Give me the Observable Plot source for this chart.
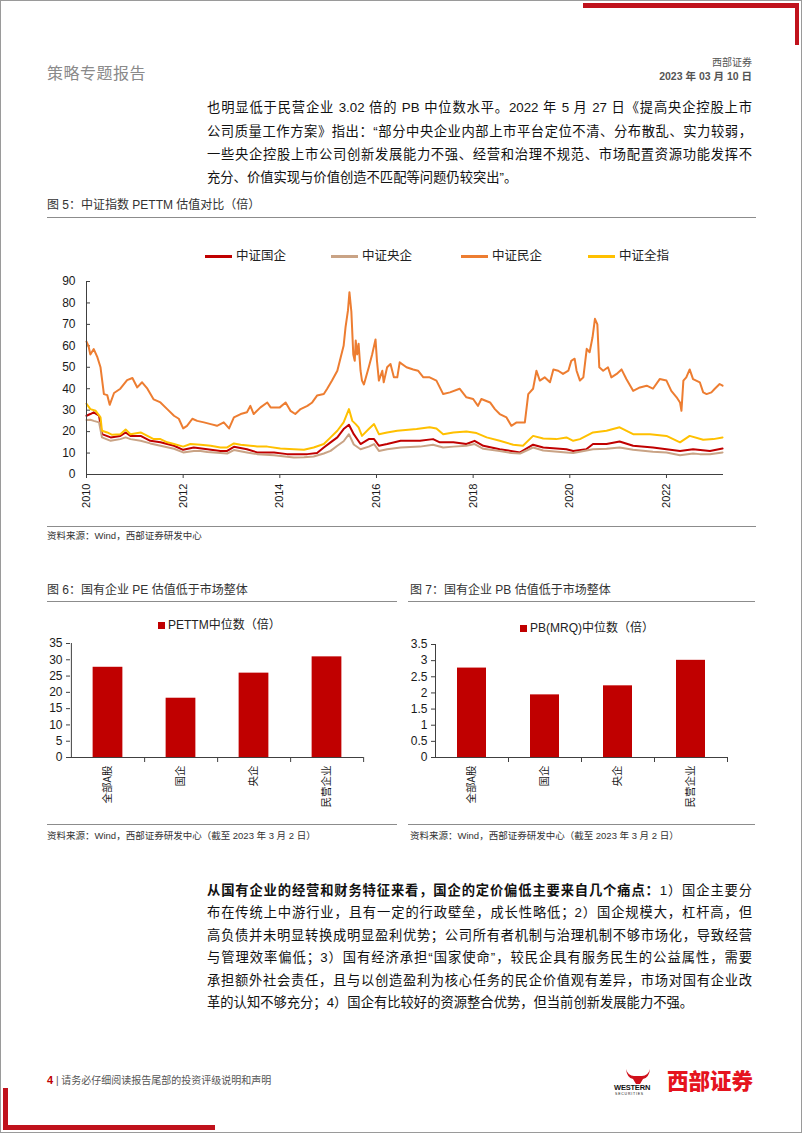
<!DOCTYPE html>
<html><head><meta charset="utf-8">
<script src="https://cdn.jsdelivr.net/npm/d3@7"></script>
<script src="https://cdn.jsdelivr.net/npm/@observablehq/plot@0.6"></script>
<style>
html,body{margin:0;padding:0;background:#fff;}
#page{position:relative;width:802px;height:1133px;overflow:hidden;font-family:"Liberation Sans","Noto Sans CJK SC",sans-serif;color:#111;}
.abs{position:absolute;white-space:nowrap;}
.jl{position:absolute;left:207px;width:545px;font-size:13.3px;line-height:20px;height:20px;text-align:justify;text-align-last:justify;color:#111;}
.jl.last{text-align-last:left;}
.rule{position:absolute;background:#8c8c8c;}
.cap{position:absolute;font-size:12px;line-height:16px;color:#333;white-space:nowrap;}
.src{position:absolute;font-size:9.5px;line-height:12px;color:#333;white-space:nowrap;}
.red{position:absolute;background:#C0121C;}
.leg{position:absolute;display:flex;align-items:center;font-size:12.5px;line-height:16px;color:#222;white-space:nowrap;}
.sw{display:inline-block;width:27px;height:3px;margin-right:4px;}
.sq{display:inline-block;width:7px;height:7px;background:#C00000;margin-right:3px;}
svg{overflow:visible;}
</style></head>
<body><div id="page"></div>
<script>
// ---------- data ----------
const lineSeries = ["中证国企", "中证央企", "中证民企", "中证全指"];
const lineColors = ["#C00000", "#C9A385", "#ED7D31", "#FFC000"];
const yTicks5 = [0, 10, 20, 30, 40, 50, 60, 70, 80, 90];
const xTicks5 = [2010, 2012, 2014, 2016, 2018, 2020, 2022];

// [decimal year, PE TTM]
const soeData = [[2010.00,27.4],[2010.08,28.2],[2010.15,29],[2010.26,27.4],[2010.32,18.8],[2010.50,17.3],[2010.70,18],[2010.81,19.6],[2010.91,18],
[2011.12,18],[2011.32,15.7],[2011.53,15],[2011.81,13.4],[2012.00,11.5],[2012.22,12.6],[2012.50,11.8],[2012.77,11],[2012.91,11],
[2013.05,12.9],[2013.32,11.8],[2013.53,10.3],[2013.88,10.3],[2014.15,9.5],[2014.57,9.5],[2014.77,10],[2014.91,12.6],
[2015.05,15],[2015.19,17.3],[2015.32,21.2],[2015.43,23.2],[2015.53,18.8],[2015.67,14.2],[2015.84,16.5],[2015.95,16.5],
[2016.05,13.4],[2016.22,14.2],[2016.50,15.7],[2016.90,15.7],[2017.17,16.5],[2017.31,15],[2017.59,15],[2017.86,14.2],
[2018.03,15.7],[2018.21,13.4],[2018.55,11.8],[2018.97,10.3],[2019.24,13.9],[2019.45,12.6],[2019.93,11.8],[2020.07,11],
[2020.34,11.8],[2020.48,14.2],[2020.76,14.2],[2021.03,15.4],[2021.31,13.4],[2021.72,12.6],[2022.00,11.8],[2022.28,11],
[2022.55,11.8],[2022.90,11],[2023.16,12.1]];

const centralData = [[2010.00,25.4],[2010.08,25.5],[2010.15,25],[2010.26,24.3],[2010.32,17.3],[2010.50,15.7],[2010.70,16.5],[2010.81,17.3],[2010.91,16.5],
[2011.12,15.7],[2011.32,14.5],[2011.53,13.4],[2011.81,12],[2012.00,10.3],[2012.22,11],[2012.36,11],[2012.50,10.5],[2012.77,10],[2012.91,9.8],
[2013.05,11.4],[2013.32,10.3],[2013.53,9.5],[2013.88,9],[2014.15,8.3],[2014.29,7.9],[2014.50,8],[2014.70,8.4],[2014.91,9.8],
[2015.05,11],[2015.19,13.4],[2015.32,15.5],[2015.43,18.8],[2015.53,14],[2015.67,11.8],[2015.84,13],[2015.95,14.2],
[2016.05,11],[2016.22,11.8],[2016.50,12.6],[2016.90,13],[2017.17,13.9],[2017.38,12.6],[2017.59,13],[2017.86,13.4],
[2018.03,14.2],[2018.21,12],[2018.55,11],[2018.79,10],[2018.97,9.8],[2019.24,12.6],[2019.45,11.2],[2019.93,10.3],
[2020.07,10],[2020.48,11.8],[2020.76,12],[2021.03,12.6],[2021.31,11.5],[2021.72,10.6],[2022.00,10.3],[2022.28,9],
[2022.55,9.8],[2022.69,9.5],[2022.90,9.4],[2023.16,10.3]];

const privateData = [[2010.00,62],[2010.04,60],[2010.08,56],[2010.15,58.5],[2010.22,55],[2010.29,50],[2010.36,37.5],[2010.43,37],[2010.48,32.5],
[2010.57,38],[2010.70,40],[2010.84,44],[2010.95,45],[2011.05,40.6],[2011.15,43],[2011.26,40],[2011.39,35],[2011.53,33.6],
[2011.67,30.5],[2011.81,27.4],[2011.91,26],[2012.00,21.5],[2012.08,22.7],[2012.19,26],[2012.29,25],[2012.43,24.3],[2012.57,23.5],
[2012.70,22.7],[2012.84,24.3],[2012.95,21.5],[2013.05,26.6],[2013.19,28.2],[2013.32,29],[2013.39,32],[2013.46,28.2],[2013.60,31.3],
[2013.74,33.6],[2013.81,31.3],[2013.88,31.3],[2014.00,31.3],[2014.12,33.6],[2014.22,29.7],[2014.32,28.2],[2014.43,30.5],[2014.57,32],
[2014.67,33.6],[2014.77,36.8],[2014.91,37.5],[2014.98,40],[2015.08,43.8],[2015.19,48.4],[2015.26,54.7],[2015.32,60],[2015.36,68.7],
[2015.41,76.5],[2015.44,85],[2015.48,76],[2015.52,56],[2015.55,53],[2015.57,62.5],[2015.60,56],[2015.63,61],[2015.67,48.4],
[2015.70,43.8],[2015.74,42],[2015.84,50],[2015.91,56],[2015.98,63],[2016.01,53],[2016.05,43.8],[2016.12,48.4],[2016.15,43],
[2016.22,50],[2016.29,51.5],[2016.36,45.3],[2016.43,45.3],[2016.48,52.3],[2016.62,50],[2016.76,49],[2016.86,48.4],[2016.97,45.3],
[2017.10,45.3],[2017.24,43.8],[2017.38,37.5],[2017.52,38.3],[2017.72,40],[2017.86,36],[2018.00,35.2],[2018.10,32],[2018.17,35.2],
[2018.35,33.6],[2018.45,30.5],[2018.55,28.2],[2018.69,26.6],[2018.79,22.7],[2018.90,24.3],[2019.07,24.3],[2019.14,37.5],[2019.24,40],
[2019.31,48.4],[2019.38,43.8],[2019.48,45.3],[2019.59,43],[2019.66,49],[2019.76,48.4],[2019.86,46.9],[2019.97,48.4],[2020.03,53],
[2020.10,54],[2020.14,48.4],[2020.21,43.8],[2020.28,45.3],[2020.35,58.6],[2020.41,57],[2020.47,64],[2020.52,72.6],[2020.57,70],
[2020.61,50],[2020.69,48.4],[2020.79,50],[2020.86,45.3],[2020.97,46.9],[2021.07,49],[2021.17,44.5],[2021.31,39],[2021.45,40.6],
[2021.59,41.4],[2021.72,40],[2021.86,44.5],[2022.00,43.8],[2022.10,39],[2022.21,36],[2022.28,33.6],[2022.31,29.7],[2022.35,43.8],
[2022.41,45.3],[2022.48,49],[2022.55,44.5],[2022.69,43],[2022.76,38.3],[2022.83,37.5],[2022.93,38.3],[2023.00,40],[2023.10,42.2],[2023.16,41.4]];

const allData = [[2010.00,33],[2010.08,30.5],[2010.19,29.7],[2010.29,26.6],[2010.32,20.4],[2010.43,19.6],[2010.53,18.5],[2010.70,18.8],[2010.81,21],[2010.91,18.8],
[2011.12,19.6],[2011.26,18],[2011.39,16.5],[2011.53,16.5],[2011.67,15],[2011.81,14.2],[2012.00,13],[2012.15,14.2],[2012.36,13.9],[2012.57,13.4],
[2012.77,12.6],[2012.91,12.6],[2013.05,14.5],[2013.19,13.9],[2013.39,13.4],[2013.53,13.1],[2013.74,13],[2014.01,12.1],[2014.29,11.8],[2014.50,11.5],
[2014.70,12.6],[2014.91,14.2],[2015.05,17.3],[2015.19,20.4],[2015.32,24.3],[2015.43,30.5],[2015.50,25],[2015.57,23.5],[2015.63,22],[2015.70,18],
[2015.84,21.2],[2015.95,23.5],[2016.05,18.8],[2016.22,19.6],[2016.43,20.4],[2016.83,21.2],[2017.10,22],[2017.24,21.5],[2017.38,18.8],[2017.59,19.6],
[2017.86,20],[2018.07,19.3],[2018.28,17.3],[2018.55,15.7],[2018.83,13.9],[2019.03,13.4],[2019.24,18],[2019.45,16.8],[2019.72,16.5],[2019.93,17.3],
[2020.07,15.7],[2020.21,16.5],[2020.48,19.6],[2020.76,20.4],[2021.03,22],[2021.31,18.8],[2021.66,18.8],[2022.00,18],[2022.28,15],[2022.48,18],
[2022.76,16.2],[2022.97,16.5],[2023.16,17.3]];

const barCats = ["全部A股", "国企", "央企", "民营企业"];
const peMedian = [27.7, 18.2, 25.9, 30.9];
const pbMedian = [2.77, 1.94, 2.22, 3.01];
const yTicksPE = [0, 5, 10, 15, 20, 25, 30, 35];
const yTicksPB = [0, 0.5, 1, 1.5, 2, 2.5, 3, 3.5];

// ---------- page text ----------
const page = document.getElementById("page");
function add(html, cls, style) {
  const d = document.createElement("div");
  d.className = cls; d.style.cssText = style; d.innerHTML = html;
  page.appendChild(d); return d;
}
// frame & decoration
add("", "abs", "left:0;top:0;width:800px;height:1131px;border:1px solid #9a9a9a;");
add("", "red", "left:583px;top:3px;width:216px;height:5px;");
add("", "red", "left:795px;top:3px;width:4px;height:42px;");
add("", "red", "left:3px;top:1088px;width:5px;height:42px;");
add("", "red", "left:3px;top:1125px;width:212px;height:5px;");

add("策略专题报告", "abs", "left:47px;top:62px;font-family:'Noto Sans CJK SC';font-size:16px;line-height:20px;color:#8a8a8a;letter-spacing:0.5px;");
add("西部证券", "abs", "right:50px;top:55px;font-family:'Noto Sans CJK SC';font-size:10px;line-height:14px;color:#555;");
add("2023 年 03 月 10 日", "abs", "right:50px;top:69px;font-size:10.5px;line-height:14px;color:#555;font-weight:bold;");

const para1 = [
  "也明显低于民营企业 3.02 倍的 PB 中位数水平。2022 年 5 月 27 日《提高央企控股上市",
  "公司质量工作方案》指出：“部分中央企业内部上市平台定位不清、分布散乱、实力较弱，",
  "一些央企控股上市公司创新发展能力不强、经营和治理不规范、市场配置资源功能发挥不",
  "充分、价值实现与价值创造不匹配等问题仍较突出”。"
];
const p1y = [98, 121.5, 145, 168];
para1.forEach((t, i) => add(t, "jl" + (i === para1.length - 1 ? " last" : ""), `top:${p1y[i]}px;`));

const para2 = [
  "<b>从国有企业的经营和财务特征来看，国企的定价偏低主要来自几个痛点：</b>1）国企主要分",
  "布在传统上中游行业，且有一定的行政壁垒，成长性略低；2）国企规模大，杠杆高，但",
  "高负债并未明显转换成明显盈利优势；公司所有者机制与治理机制不够市场化，导致经营",
  "与管理效率偏低；3）国有经济承担“国家使命”，较民企具有服务民生的公益属性，需要",
  "承担额外社会责任，且与以创造盈利为核心任务的民企价值观有差异，市场对国有企业改",
  "革的认知不够充分；4）国企有比较好的资源整合优势，但当前创新发展能力不强。"
];
para2.forEach((t, i) => add(t, "jl" + (i === para2.length - 1 ? " last" : ""), `top:${880.5 + i * 22.5}px;`));

// figure 5 caption, legend
add("图 5：中证指数 PETTM 估值对比（倍）", "cap", "left:47px;top:197px;");
add("", "rule", "left:47px;top:217px;width:709px;height:1px;");
const leg5 = [205, 331, 461, 588];
lineSeries.forEach((s, i) => add(`<span class="sw" style="background:${lineColors[i]}"></span>${s}`, "leg", `left:${leg5[i]}px;top:248px;`));
add("", "rule", "left:47px;top:526px;width:709px;height:1.3px;");
add("资料来源：Wind，西部证券研发中心", "src", "left:47px;top:530px;");

// figure 6/7 captions
add("图 6：国有企业 PE 估值低于市场整体", "cap", "left:47px;top:582px;");
add("", "rule", "left:47px;top:601px;width:350px;height:1px;");
add("图 7：国有企业 PB 估值低于市场整体", "cap", "left:410px;top:582px;");
add("", "rule", "left:408px;top:601px;width:347px;height:1px;");
add('<span class="sq"></span>PETTM中位数（倍）', "leg", "left:158px;top:617px;font-size:12px;");
add('<span class="sq"></span>PB(MRQ)中位数（倍）', "leg", "left:520px;top:620px;font-size:12px;");
add("", "rule", "left:47px;top:824px;width:350px;height:1.3px;");
add("", "rule", "left:408px;top:824px;width:347px;height:1.3px;");
add("资料来源：Wind，西部证券研发中心（截至 2023 年 3 月 2 日）", "src", "left:47px;top:830px;");
add("资料来源：Wind，西部证券研发中心（截至 2023 年 3 月 2 日）", "src", "left:410px;top:830px;");

// footer
add('<span style="color:#C00000;font-weight:bold;font-size:11px">4</span><span style="color:#555"> | 请务必仔细阅读报告尾部的投资评级说明和声明</span>', "abs", "left:47px;top:1073px;font-size:10px;line-height:14px;");
add('<svg width="40" height="22" viewBox="0 0 40 22"><path d="M8 2 Q10 9 16 9 L24 9 Q30 9 32 2 Q31 11 25 12 L22 17 L18 17 L15 12 Q9 11 8 2Z" fill="#D0101B"/></svg>', "abs", "left:618px;top:1067px;");
add('WESTERN', "abs", "left:614px;top:1083px;font-size:7.5px;font-weight:bold;line-height:9px;color:#111;letter-spacing:-0.2px;");
add('SECURITIES', "abs", "left:615px;top:1092px;font-size:3.5px;line-height:5px;color:#111;letter-spacing:0.8px;");
add("西部证券", "abs", "left:667px;top:1068px;font-family:'Noto Sans CJK SC';font-weight:900;font-size:21.5px;line-height:24px;color:#E5141E;");

// ---------- figure 5: lines ----------
const rows = [];
[soeData, centralData, privateData, allData].forEach((arr, k) => arr.forEach(([t, v]) => rows.push({series: lineSeries[k], t, v})));

const baseStyle = {fontFamily: "'Liberation Sans', 'Noto Sans CJK SC', sans-serif", fontSize: "12px", color: "#1a1a1a", background: "transparent", overflow: "visible"};

const fig5 = Plot.plot({
  width: 700, height: 260, marginLeft: 46, marginRight: 17, marginTop: 11, marginBottom: 56,
  style: baseStyle,
  x: {domain: [2010, 2023.18], label: null},
  y: {domain: [0, 90], label: null},
  color: {domain: lineSeries, range: lineColors},
  marks: [
    Plot.axisY({ticks: yTicks5, tickSize: 0, tickPadding: 11, fontSize: 12, label: null}),
    Plot.axisY({ticks: yTicks5, tickSize: 4, dx: 4, tickFormat: () => "", label: null, stroke: "#404040"}),
    Plot.axisX({ticks: xTicks5, tickSize: 4, tickPadding: 5, tickRotate: -90, tickFormat: d => String(d), fontSize: 11, label: null, stroke: "#404040"}),
    Plot.line(rows, {x: "t", y: "v", z: "series", stroke: "series", strokeWidth: 2, strokeLinejoin: "round"}),
    Plot.ruleY([0], {stroke: "#404040"}),
    Plot.ruleX([2010], {stroke: "#404040"})
  ]
});
fig5.style.position = "absolute"; fig5.style.left = "40px"; fig5.style.top = "270px";
page.appendChild(fig5);

// ---------- figures 6/7: bars ----------
function barChart(values, yDomain, yTicks, geom) {
  const data = barCats.map((c, i) => ({cat: c, v: values[i]}));
  const step = (geom.width - geom.marginLeft - geom.marginRight) / barCats.length;
  const inset = (step - geom.barWidth) / 2;
  return Plot.plot({
    width: geom.width, height: geom.height,
    marginLeft: geom.marginLeft, marginRight: geom.marginRight, marginTop: geom.marginTop, marginBottom: geom.marginBottom,
    style: baseStyle,
    x: {domain: barCats, padding: 0, label: null},
    y: {domain: yDomain, label: null},
    marks: [
      Plot.barY(data, {x: "cat", y: "v", fill: "#C00000", insetLeft: inset, insetRight: inset}),
      Plot.axisY({ticks: yTicks, tickSize: 4, tickPadding: 4, tickFormat: d => String(d), fontSize: 12, label: null, stroke: "#404040"}),
      Plot.axisX({tickSize: 0, tickPadding: 8, tickRotate: -90, fontSize: 10.5, label: null, fontFamily: "'Noto Sans CJK SC'"}),
      Plot.axisX({tickSize: 5, dx: step / 2, tickFormat: () => "", label: null, stroke: "#404040"}),
      Plot.ruleY([0], {stroke: "#404040"}),
      Plot.ruleX([barCats[0]], {dx: -step / 2, stroke: "#404040"})
    ]
  });
}
const fig6 = barChart(peMedian, [0, 35], yTicksPE, {width: 360, height: 190, marginLeft: 30, marginRight: 37, marginTop: 13, marginBottom: 63, barWidth: 30});
fig6.style.position = "absolute"; fig6.style.left = "40px"; fig6.style.top = "630px";
page.appendChild(fig6);
const fig7 = barChart(pbMedian, [0, 3.5], yTicksPB, {width: 400, height: 190, marginLeft: 35, marginRight: 73, marginTop: 14, marginBottom: 63, barWidth: 29});
fig7.style.position = "absolute"; fig7.style.left = "400px"; fig7.style.top = "630px";
page.appendChild(fig7);
</script>
</body></html>
